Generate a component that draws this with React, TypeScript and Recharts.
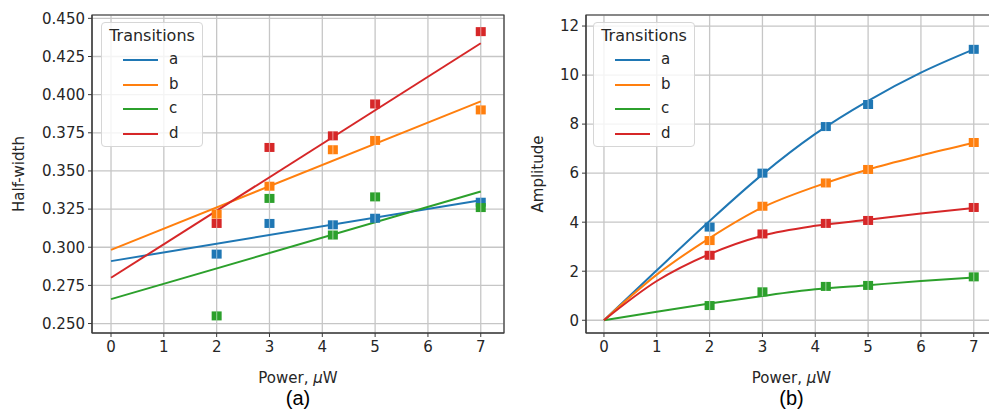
import React from 'react';
import {
  ComposedChart,
  Line,
  Scatter,
  XAxis,
  YAxis,
  CartesianGrid,
  ReferenceArea,
} from 'recharts';

// Laser power at which each transition was measured (µW)
const POWER = [2, 3, 4.2, 5, 7];
const SERIES = ['a', 'b', 'c', 'd'];
const COLORS: Record<string, string> = {
  a: '#1f77b4',
  b: '#ff7f0e',
  c: '#2ca02c',
  d: '#d62728',
};
const X_TICKS = [0, 1, 2, 3, 4, 5, 6, 7];

// (a) half-width, measured
const hwA = [0.2955, 0.3156, 0.3147, 0.319, 0.3295];
const hwB = [0.3217, 0.34, 0.3639, 0.37, 0.39];
const hwC = [0.255, 0.332, 0.308, 0.333, 0.326];
const hwD = [0.3156, 0.3654, 0.373, 0.3939, 0.4413];

// (a) linear fits, read at 0 and 7 µW
const HW_FIT_X = [0, 7];
const hwFitA = [0.2909, 0.3308];
const hwFitB = [0.2983, 0.3956];
const hwFitC = [0.266, 0.3365];
const hwFitD = [0.28, 0.4337];
const HW_TICKS = [0.25, 0.275, 0.3, 0.325, 0.35, 0.375, 0.4, 0.425, 0.45];

// (b) amplitude, measured
const ampA = [3.8, 6.0, 7.9, 8.8, 11.05];
const ampB = [3.25, 4.65, 5.6, 6.15, 7.25];
const ampC = [0.6, 1.16, 1.38, 1.42, 1.77];
const ampD = [2.65, 3.52, 3.95, 4.07, 4.6];

// (b) saturation fits
const AMP_FIT_X = [0, 1, 2, 3, 4, 5, 6, 7];
const ampFitA = [0, 2.04, 4.05, 5.95, 7.6, 8.95, 10.1, 11.05];
const ampFitB = [0, 1.86, 3.35, 4.6, 5.45, 6.15, 6.72, 7.24];
const ampFitC = [0, 0.35, 0.68, 0.99, 1.26, 1.43, 1.6, 1.74];
const ampFitD = [0, 1.6, 2.7, 3.45, 3.85, 4.1, 4.35, 4.58];
const AMP_TICKS = [0, 2, 4, 6, 8, 10, 12];

const FONT = '"DejaVu Sans", sans-serif';
const TEXT = '#262626';
const GRID = '#c6c6c6';
const FRAME = '#3a3a3a';

const toPoints = (xs: number[], ys: number[]) => xs.map((x, i) => ({ x, y: ys[i] }));

// square marker with the lighter centre stripe seen in the figure
const squareMarker = (color: string) => (props: any) => {
  const { cx, cy } = props;
  if (cx == null || cy == null) return <g />;
  return (
    <g>
      <rect x={cx - 5} y={cy - 4.5} width={10} height={9} fill={color} />
      <line x1={cx} x2={cx} y1={cy - 4.5} y2={cy + 4.5} stroke="#fff" strokeOpacity={0.45} strokeWidth={1.2} />
    </g>
  );
};

function LegendBox({ left }: { left: number }) {
  return (
    <div
      style={{
        position: 'absolute',
        left,
        top: 22,
        width: 102,
        height: 125,
        boxSizing: 'border-box',
        border: '1px solid #d6d6d6',
        borderRadius: 4,
        background: 'rgba(255,255,255,0.8)',
        fontFamily: FONT,
        color: TEXT,
      }}
    >
      <div
        style={{
          position: 'absolute',
          top: 4,
          left: 0,
          width: '100%',
          textAlign: 'center',
          fontSize: 16,
          lineHeight: '18px',
        }}
      >
        Transitions
      </div>
      {SERIES.map((s, i) => {
        const rowY = 37 + i * 24.6;
        return (
          <React.Fragment key={s}>
            <div
              style={{
                position: 'absolute',
                left: 21,
                top: rowY - 1,
                width: 35,
                height: 2,
                background: COLORS[s],
              }}
            />
            <div
              style={{
                position: 'absolute',
                left: 67,
                top: rowY - 10,
                fontSize: 15,
                lineHeight: '18px',
              }}
            >
              {s}
            </div>
          </React.Fragment>
        );
      })}
    </div>
  );
}

interface PanelProps {
  left: number;
  width: number;
  margin: { top: number; right: number; bottom: number; left: number };
  xDomain: [number, number];
  yDomain: [number, number];
  yTicks: number[];
  yFormat: (v: number) => string;
  yLabel: string;
  yLabelX: number;
  caption: string;
  measured: number[][];
  fitX: number[];
  fits: number[][];
}

function Panel(p: PanelProps) {
  return (
    <div style={{ position: 'absolute', left: p.left, top: 0 }}>
      <ComposedChart width={p.width} height={410} margin={p.margin}>
        <CartesianGrid stroke={GRID} strokeWidth={1.3} />
        <XAxis
          dataKey="x"
          type="number"
          domain={p.xDomain}
          ticks={X_TICKS}
          interval={0}
          allowDataOverflow
          height={30}
          tickSize={4}
          tickMargin={4}
          stroke={FRAME}
          tick={{ fill: TEXT, fontSize: 15, fontFamily: FONT }}
          label={(props: any) => {
            const vb = props.viewBox;
            const cx = vb.x + vb.width / 2;
            return (
              <g>
                <text x={cx} y={vb.y + 50} textAnchor="middle" fontSize={15} fontFamily={FONT} fill={TEXT}>
                  Power, <tspan fontStyle="italic">μ</tspan>W
                </text>
                <text
                  x={cx}
                  y={vb.y + 72}
                  textAnchor="middle"
                  fontSize={20}
                  fontFamily='"Liberation Sans", Arial, sans-serif'
                  fill="#000"
                >
                  {p.caption}
                </text>
              </g>
            );
          }}
        />
        <YAxis
          dataKey="y"
          type="number"
          domain={p.yDomain}
          ticks={p.yTicks}
          interval={0}
          allowDataOverflow
          width={60}
          tickSize={4}
          tickMargin={3}
          stroke={FRAME}
          tickFormatter={p.yFormat}
          tick={{ fill: TEXT, fontSize: 15, fontFamily: FONT }}
          label={(props: any) => {
            const vb = props.viewBox;
            const cy = vb.y + vb.height / 2;
            return (
              <text
                x={p.yLabelX}
                y={cy}
                transform={`rotate(-90 ${p.yLabelX} ${cy})`}
                textAnchor="middle"
                dominantBaseline="central"
                fontSize={15}
                fontFamily={FONT}
                fill={TEXT}
              >
                {p.yLabel}
              </text>
            );
          }}
        />
        <ReferenceArea
          x1={p.xDomain[0]}
          x2={p.xDomain[1]}
          y1={p.yDomain[0]}
          y2={p.yDomain[1]}
          fill="none"
          stroke={FRAME}
          strokeWidth={1.2}
          ifOverflow="visible"
        />
        {SERIES.map((s, i) => (
          <Line
            key={`fit-${s}`}
            data={toPoints(p.fitX, p.fits[i])}
            dataKey="y"
            type="monotone"
            stroke={COLORS[s]}
            strokeWidth={2}
            dot={false}
            activeDot={false}
            isAnimationActive={false}
          />
        ))}
        {SERIES.map((s, i) => (
          <Scatter
            key={`pts-${s}`}
            data={toPoints(POWER, p.measured[i])}
            dataKey="y"
            shape={squareMarker(COLORS[s])}
            isAnimationActive={false}
          />
        ))}
      </ComposedChart>
    </div>
  );
}

export default function App() {
  return (
    <div
      style={{
        position: 'absolute',
        left: 0,
        top: 0,
        width: 989,
        height: 410,
        overflow: 'hidden',
        background: '#fff',
      }}
    >
      <Panel
        left={0}
        width={520}
        margin={{ top: 15, right: 16, bottom: 47, left: 32 }}
        xDomain={[-0.36, 7.44]}
        yDomain={[0.2438, 0.4522]}
        yTicks={HW_TICKS}
        yFormat={(v) => v.toFixed(3)}
        yLabel="Half-width"
        yLabelX={19}
        caption="(a)"
        measured={[hwA, hwB, hwC, hwD]}
        fitX={HW_FIT_X}
        fits={[hwFitA, hwFitB, hwFitC, hwFitD]}
      />
      <Panel
        left={500}
        width={520}
        margin={{ top: 15, right: 23, bottom: 47, left: 26 }}
        xDomain={[-0.34, 7.44]}
        yDomain={[-0.52, 12.45]}
        yTicks={AMP_TICKS}
        yFormat={(v) => String(v)}
        yLabel="Amplitude"
        yLabelX={38}
        caption="(b)"
        measured={[ampA, ampB, ampC, ampD]}
        fitX={AMP_FIT_X}
        fits={[ampFitA, ampFitB, ampFitC, ampFitD]}
      />
      <LegendBox left={101} />
      <LegendBox left={593} />
    </div>
  );
}
